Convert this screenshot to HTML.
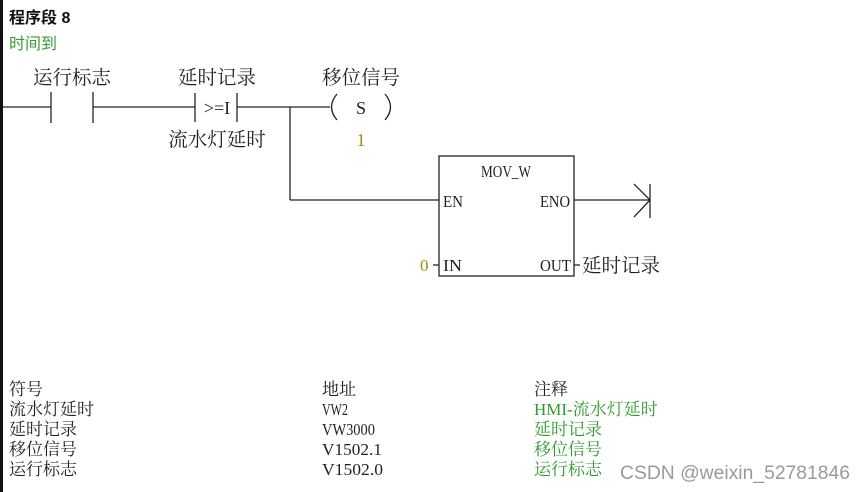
<!DOCTYPE html>
<html><head><meta charset="utf-8"><style>
html,body{margin:0;padding:0;background:#fff;width:867px;height:492px;overflow:hidden}
text{font-family:"Liberation Serif","Noto Serif CJK SC","Noto Sans CJK SC",serif}
</style></head><body>
<svg width="867" height="492" viewBox="0 0 867 492" xmlns="http://www.w3.org/2000/svg">
<rect x="0" y="0" width="3" height="492" fill="#111"/>
<text x="9" y="23" font-size="16" font-weight="bold" style="font-family:'Liberation Sans','Noto Sans CJK SC',sans-serif" fill="#111">程序段 8</text>
<text x="9" y="49" font-size="16" style="font-family:'Liberation Sans','Noto Sans CJK SC',sans-serif" fill="#3a9a3a">时间到</text>
<g stroke="#222" stroke-width="1.3" fill="none">
<line x1="3" y1="107" x2="51" y2="107"/>
<line x1="51" y1="92" x2="51" y2="123"/>
<line x1="93" y1="92" x2="93" y2="123"/>
<line x1="93" y1="107" x2="195" y2="107"/>
<line x1="195" y1="93" x2="195" y2="122"/>
<line x1="237" y1="93" x2="237" y2="122"/>
<line x1="237" y1="107" x2="330" y2="107"/>
<line x1="290" y1="107" x2="290" y2="200"/>
<line x1="290" y1="200" x2="439" y2="200"/>
<path d="M337 94 Q326 107 337 120"/>
<path d="M385 94 Q396 107 385 120"/>
<rect x="439" y="156" width="135" height="120"/>
<line x1="574" y1="200" x2="650" y2="200"/>
<polyline points="634,184 650,200 634,217"/>
<line x1="650" y1="184" x2="650" y2="218"/>
<line x1="433" y1="265" x2="439" y2="265"/>
<line x1="574" y1="265" x2="580" y2="265"/>
</g>
<g font-size="19.5" fill="#222" text-anchor="middle">
<text x="72" y="84">运行标志</text>
<text x="217" y="84">延时记录</text>
<text x="361" y="84">移位信号</text>
<text x="217" y="146">流水灯延时</text>
<text x="217" y="114" font-size="18">&gt;=I</text>
<text x="361" y="114" font-size="18">S</text>
<text x="361" y="146" font-size="18" fill="#a08a10">1</text>
<text x="506" y="177" font-size="17" textLength="50" lengthAdjust="spacingAndGlyphs">MOV_W</text>
</g>
<g font-size="17" fill="#222">
<text x="443" y="207" textLength="20" lengthAdjust="spacingAndGlyphs">EN</text>
<text x="540" y="207" textLength="30" lengthAdjust="spacingAndGlyphs">ENO</text>
<text x="443" y="271" textLength="19" lengthAdjust="spacingAndGlyphs">IN</text>
<text x="540" y="271" textLength="31" lengthAdjust="spacingAndGlyphs">OUT</text>
<text x="420" y="271" fill="#a08a10">0</text>
<text x="582" y="272" font-size="19.5">延时记录</text>
</g>
<g font-size="17" fill="#222">
<text x="9" y="395">符号</text>
<text x="9" y="415">流水灯延时</text>
<text x="9" y="435">延时记录</text>
<text x="9" y="455">移位信号</text>
<text x="9" y="475">运行标志</text>
<text x="322" y="395">地址</text>
<text x="322" y="415" textLength="26" lengthAdjust="spacingAndGlyphs">VW2</text>
<text x="322" y="435" textLength="53" lengthAdjust="spacingAndGlyphs">VW3000</text>
<text x="322" y="455" textLength="60" lengthAdjust="spacingAndGlyphs">V1502.1</text>
<text x="322" y="475" textLength="61" lengthAdjust="spacingAndGlyphs">V1502.0</text>
<text x="534" y="395">注释</text>
</g>
<g font-size="17" fill="#2e9a2e">
<text x="534" y="415">HMI-流水灯延时</text>
<text x="534" y="435">延时记录</text>
<text x="534" y="455">移位信号</text>
<text x="534" y="475">运行标志</text>
</g>
<text x="620" y="479" font-size="19" fill="#9a9a9a" textLength="230" lengthAdjust="spacingAndGlyphs" style="font-family:'Liberation Sans',sans-serif">CSDN @weixin_52781846</text>
</svg>
</body></html>
